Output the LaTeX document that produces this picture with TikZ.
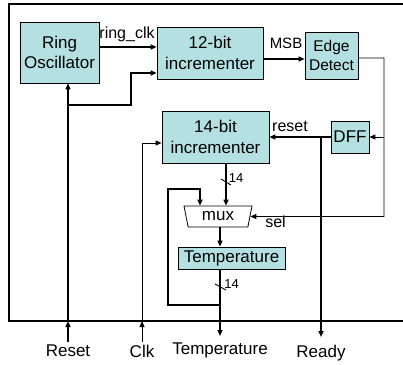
\documentclass[tikz,border=0pt]{standalone}
\usepackage{fontspec}
\setmainfont{Liberation Sans}
\usetikzlibrary{arrows.meta, shapes.geometric}
\definecolor{blkfill}{RGB}{180,224,226}

\begin{document}
\begin{tikzpicture}[x=1pt, y=-1pt, >={Triangle[length=6pt,width=5pt]},
        blk/.style={draw, line width=0.8pt, fill=blkfill, align=center, inner sep=0pt, font=\fontsize{17}{20.5}\selectfont},
        lbl/.style={inner sep=0pt, anchor=base, font=\fontsize{16}{18}\selectfont},
        bus/.style={line width=2pt},
        wire/.style={line width=0.9pt}]
				\useasboundingbox (0,0) rectangle (403,364);
				\draw[line width=2pt] (406,4) -- (9,4) -- (9,321) -- (406,321);
				
				\node[blk, minimum width=79pt, minimum height=61pt] (osc) at (59.5,52.5) {Ring\\Oscillator};
				\node[blk, minimum width=106pt, minimum height=52pt] (inc12) at (210,53) {12-bit\\incrementer};
				\node[blk, minimum width=53pt, minimum height=47pt, font=\fontsize{15.5}{19}\selectfont] (edge) at (331.5,55.5) {Edge\\Detect};
				\node[blk, minimum width=107pt, minimum height=52pt] (inc14) at (215.5,137) {14-bit\\incrementer};
				\node[blk, minimum width=38pt, minimum height=32pt] (dff) at (350,137) {DFF};
				\node[blk, minimum width=107pt, minimum height=22pt] (temp) at (231.5,258) {Temperature};
				\node[draw, line width=0.8pt, trapezium, trapezium angle=66, trapezium stretches body, shape border rotate=180,
				      minimum width=68pt, minimum height=21pt, inner sep=0pt, font=\fontsize{17}{20}\selectfont] (mux) at (218,216.5) {mux};
				
				% clocks and reset
				\draw[bus, ->] (osc.east |- 0,47) -- (inc12.west |- 0,47);
				\node[lbl] (lringclk) at (127,38) {ring\_clk};
				\coordinate (rst) at (68,342);
				\draw[bus, ->] (rst) -- (68,321);
				\draw[bus, ->] (68,321) -- (osc.south -| 68,0);
				\draw[line width=1.4pt, ->] (68,105) -| (131,73) -- (inc12.west |- 0,73);
				\coordinate (clk) at (142,342);
				\draw[wire, ->] (clk) -- (142,321);
				\draw[wire, ->] (142,321) |- (inc14.west |- 0,143);
				
				% edge detect, DFF, select
				\draw[bus, ->] (inc12.east |- 0,59) -- (edge.west |- 0,59);
				\node[lbl, font=\fontsize{15}{18}\selectfont] (lmsb) at (286,48) {MSB};
				\draw[wire, ->] (edge.east |- 0,58) -| (384,216.5) -- (mux.east);
				\draw[wire, ->] (384,137) -- (dff.east);
				\node[lbl] (lsel) at (275.5,227) {sel};
				\draw[bus, ->] (dff.west) -- (inc14.east);
				\node[lbl] (lreset) at (290,131) {reset};
				\draw[bus, ->] (321,137) -- (321,337);
				
				% datapath
				\draw[bus, ->] (inc14.south -| 226,0) -- (mux.north -| 226,0);
				\draw[wire] (221,179) -- (231,185);
				\node[lbl, font=\fontsize{13}{15}\selectfont] (lbus1) at (236,182) {14};
				\draw[bus, ->] (mux.south -| 220,0) -- (temp.north -| 220,0);
				\draw[line width=2.5pt, ->] (temp.south -| 220,0) -- (220,336);
				\draw[wire] (215,284) -- (226,290);
				\node[lbl, font=\fontsize{13}{15}\selectfont] (lbus2) at (231.5,288) {14};
				\draw[bus, ->] (220,305) -| (168,189) -| (mux.north -| 200,0);
				
				% pins
				\node[lbl, font=\fontsize{17}{20}\selectfont] (preset) at (68,356) {Reset};
				\node[lbl, font=\fontsize{17}{20}\selectfont] (pclk) at (142,357) {Clk};
				\node[lbl, font=\fontsize{17}{20}\selectfont] (ptemp) at (220,354) {Temperature};
				\node[lbl, font=\fontsize{17}{20}\selectfont] (pready) at (321,357) {Ready};
			\end{tikzpicture}
\end{document}
